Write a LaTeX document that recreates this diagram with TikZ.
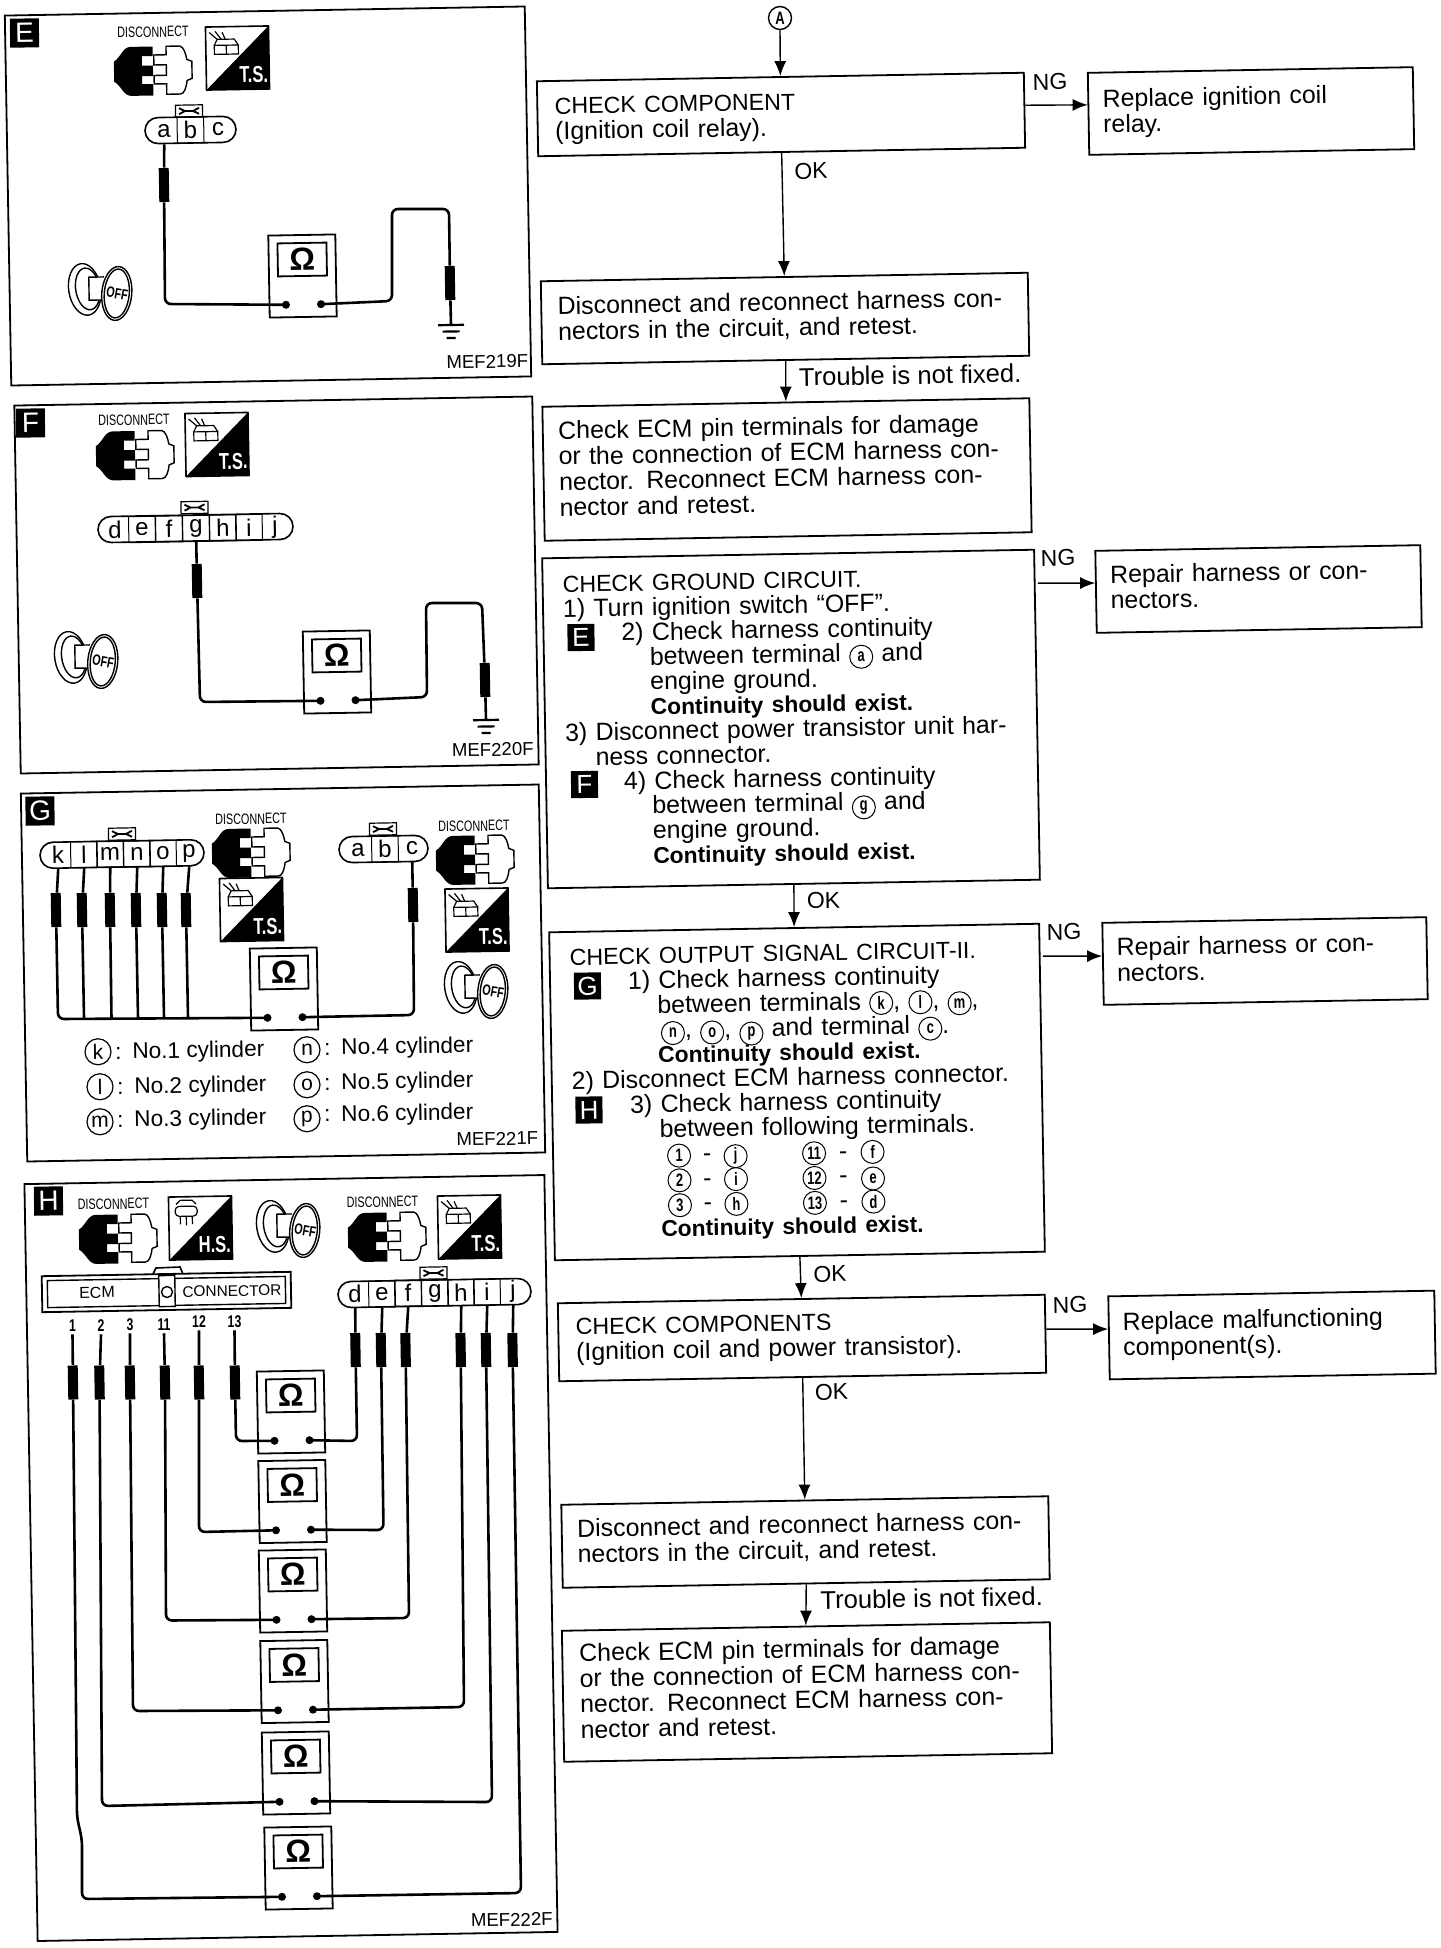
\documentclass[tikz,border=0pt]{standalone}
\usepackage{fontspec}
\setmainfont{Liberation Sans}
\newfontfamily\narrowsf[FakeStretch=0.72]{Liberation Sans}
\usetikzlibrary{shapes.misc,arrows.meta}
\newcommand{\ccl}[1]{\smash{\tikz[baseline=(c.base)]\node[draw, circle, line width=0.5pt, inner sep=0pt, text width=, align=none, minimum width=11.5pt, minimum height=11.5pt, font=\narrowsf\bfseries\fontsize{9}{9}\selectfont] (c) {#1};}}
\newcommand{\cclb}[1]{\tikz[baseline=(c.base)]\node[draw, circle, line width=0.6pt, inner sep=0pt, text width=, align=none, anchor=center, minimum width=13pt, minimum height=13pt, font=\fontsize{10.5}{10.5}\selectfont] (c) {#1};}
\newcommand{\pairline}[4]{\hspace*{46pt}\makebox[14pt]{\ccl{#1}}\makebox[14pt]{-}\makebox[14.5pt]{\ccl{#2}}\hspace{25pt}\makebox[14pt]{\ccl{#3}}\makebox[15pt]{-}\makebox[14.5pt]{\ccl{#4}}}
\newcommand{\cylrow}[2]{\makebox[24pt][l]{\cclb{#1}\,:}#2}
\newcommand{\headline}[1]{{\fontsize{11.6}{12}\selectfont #1}}
\newcommand{\boldline}[1]{{\bfseries\fontsize{11.4}{12}\selectfont #1}}
\newcommand{\lift}[1]{\rule[-#1pt]{0pt}{0pt}}
\begin{document}
\begin{tikzpicture}[
x=0.5pt, y=-0.5pt,
every pic/.style={rotate=1},
panel/.style={draw, line width=0.9pt, rotate=1},
tag/.style={
   fill=black,
   text=white,
   minimum size=14.5pt,
   inner sep=0pt,
   rotate=1,
   font=\fontsize{14}{14}\selectfont,
   },
flowbox/.style={
   draw,
   line width=0.9pt,
   rotate=1,
   align=left,
   inner xsep=7pt,
   inner ysep=0pt,
   font=\fontsize{12.45}{12.8}\selectfont,
   },
longbox/.style={flowbox, font=\fontsize{12.45}{12.4}\selectfont},
smalltag/.style={tag, minimum size=13.5pt, font=\fontsize{13}{13}\selectfont},
lbl/.style={rotate=1, inner sep=0pt, font=\fontsize{11.5}{12}\selectfont},
troub/.style={lbl, anchor=west, font=\fontsize{12.8}{13}\selectfont},
mef/.style={rotate=1, anchor=east, inner sep=0pt, font=\fontsize{9.3}{10}\selectfont},
disc/.style={rotate=1, inner sep=0pt, font=\narrowsf\fontsize{7.5}{8}\selectfont},
flow/.style={line width=0.7pt, -{Latex[length=7.5pt,width=6pt]}},
wire/.style={line width=1.3pt, rounded corners=3pt},
probe/.style={fill=black, minimum width=5pt, minimum height=17pt, inner sep=0pt, rotate=1},
pinbar/.style={draw, rounded rectangle, line width=0.8pt, minimum height=13pt, inner sep=0pt, rotate=1},
pin/.style={minimum width=13.3pt, minimum height=13pt, inner sep=0pt, rotate=1, font=\fontsize{12}{12}\selectfont},
pincell/.style={pin, draw, line width=0.5pt},
legend/.style={anchor=west, inner sep=0pt, rotate=1, font=\fontsize{11.3}{12}\selectfont},
wirenum/.style={inner sep=1pt, font=\narrowsf\bfseries\fontsize{8.5}{9}\selectfont},
disconnect/.pic={
   \fill (0,-24.5) -- (-22,-24.5) .. controls (-30,-24.5) and (-32,-14) .. (-39,-10) -- (-39,10)
      .. controls (-32,14) and (-30,24.5) .. (-22,24.5) -- (0,24.5) -- (0,13) -- (-11,13) -- (-11,5)
      -- (0,5) -- (0,-5.5) -- (-11,-5.5) -- (-11,-15) -- (0,-15) -- cycle;
   \draw[line width=0.7pt] (13.4,-24.5) -- (27,-24.5) .. controls (31,-24) and (33,-17) .. (34,-11) -- (39,-9) -- (39,8)
      -- (34,10) .. controls (33,17) and (31,23.5) .. (27,23.5) -- (13.4,23.5) -- (13.4,13) -- (1,13) -- (1,4.5) -- (13.4,4.5)
      -- (13.4,-6) -- (1,-6) -- (1,-16) -- (13.4,-16) -- cycle;
   },
tsicon/.pic={
   \draw[line width=0.8pt] (-31.5,-31.5) rectangle (31.5,31.5);
   \fill (31.5,-31.5) -- (31.5,31.5) -- (-31.5,31.5) -- cycle;
   \draw[line width=0.6pt] (-23,-13) rectangle (-11,-4) (-11,-13) rectangle (1,-4);
   \draw[line width=0.6pt] (-23,-13) -- (-20,-19) -- (-3,-19) -- (1,-13);
   \draw[line width=0.6pt] (-28,-26) -- (-20,-19) (-22,-27) -- (-16,-19) (-15,-26) -- (-12,-19);
   \node[rotate=1, text=white, inner sep=0pt, font=\narrowsf\bfseries\fontsize{11.5}{12}\selectfont] (-txt) at (16,17) {T.S.};
   },
hsicon/.pic={
   \draw[line width=0.8pt] (-31.5,-31.5) rectangle (31.5,31.5);
   \fill (31.5,-31.5) -- (31.5,31.5) -- (-31.5,31.5) -- cycle;
   \draw[line width=0.6pt, rounded corners=2pt] (-25,-22) rectangle (-3,-12);
   \draw[line width=0.6pt] (-24,-24) -- (-20,-28) -- (-8,-28) -- (-4,-24);
   \draw[line width=0.6pt] (-20,-12) -- (-20,-4) (-14,-12) -- (-14,-3) (-8,-12) -- (-8,-4);
   \node[rotate=1, text=white, inner sep=0pt, font=\narrowsf\bfseries\fontsize{11.5}{12}\selectfont] (-txt) at (14,17) {H.S.};
   },
keyicon/.pic={
   \draw[line width=0.7pt, rotate=8] (-15,-3) ellipse (16 and 26);
   \draw[line width=0.7pt, rotate=8] (-12,-3) ellipse (12 and 21);
   \draw[line width=0.7pt, fill=white] (4,-13) -- (-11,-13) -- (-11,10) -- (4,10);
   \draw[line width=0.7pt, fill=white, rotate=-6] (17,2) ellipse (15 and 27);
   \draw[line width=0.7pt, rotate=-6] (17,2) ellipse (12.5 and 24.5);
   \node[rotate=-10, inner sep=0pt, font=\narrowsf\bfseries\fontsize{7.5}{8}\selectfont] (-txt) at (17,4) {OFF};
   },
meter/.pic={
   \draw[line width=0.9pt] (-33.5,-41) rectangle (33.5,41);
   \draw[line width=0.9pt] (-24.5,-33) rectangle (24.5,0);
   \node[rotate=1, inner sep=0pt, font=\bfseries\fontsize{16}{16}\selectfont] (-omega) at (0,-16.5) {Ω};
   \coordinate (-l) at (-17,28.5);
   \coordinate (-r) at (18,28.5);
   \fill (-l) circle (4) (-r) circle (4);
   },
lockmark/.pic={
   \draw[line width=0.6pt] (-13.5,-6) rectangle (13.5,6);
   \draw[line width=0.9pt] (-10,-3) -- (-4,0) -- (4,0) -- (10,-3) (-10,3) -- (-4,0) (4,0) -- (10,3);
   },
gnd/.pic={
   \coordinate (-top) at (0,0);
   \draw[line width=1.1pt] (-13,0) -- (13,0) (-8.5,6.5) -- (8.5,6.5) (-4.5,13) -- (4.5,13);
   },
]
\useasboundingbox (0,0) rectangle (1440,1948);

% panel E
\node[panel, minimum width=260pt, minimum height=185pt] (panelE) at (268,196) {};
\node[tag] (tagE) at (24.5,33) {E};
\node[disc] (discE) at (153,32) {DISCONNECT};
\pic (iconE) at (153,71) {disconnect};
\pic (tsE) at (237.5,58) {tsicon};
\pic (keyE) at (100,290) {keyicon};
\pic (lockE) at (189,111) {lockmark};
\node[pinbar, minimum width=45.5pt] (barE) at (190.5,130) {};
\node[pin] (Ea) at (164,131) {a};
\node[pincell] (Eb) at (190.5,130) {b};
\node[pin] (Ec) at (218,129.5) {c};
\node[probe] (Epa) at (164,185) {};
\node[probe] (Epg) at (450,283) {};
\pic (mE) at (302.5,276) {meter};
\pic (gndE) at (451,325) {gnd};
\draw[wire] (Ea.south) -- (Epa) -- (165,304) -- (mE-l);
\draw[wire] (mE-r) -- (392,301) -- (392,209) -- (449,209) -- (Epg) -- (gndE-top);
\node[mef] (mefE) at (528.5,361) {MEF219F};

% panel F
\node[panel, minimum width=259pt, minimum height=184pt] (panelF) at (276.5,585) {};
\node[tag] (tagF) at (30.5,423) {F};
\node[disc] (discF) at (134,420) {DISCONNECT};
\pic (iconF) at (135,455.5) {disconnect};
\pic (tsF) at (217,444.5) {tsicon};
\pic (keyF) at (86,658) {keyicon};
\pic (lockF) at (194.5,507.5) {lockmark};
\node[pinbar, minimum width=97.5pt] (barF) at (195.5,528) {};
\node[pin] (Fd) at (115,530) {d};
\node[pincell] (Fe) at (142,529.5) {e};
\node[pincell] (Ff) at (169,529) {f};
\node[pincell] (Fg) at (196,528.5) {g};
\node[pincell] (Fh) at (223,528) {h};
\node[pincell] (Fi) at (249,527.5) {i};
\node[pin] (Fj) at (275,527) {j};
\node[probe] (Fpg) at (197,581) {};
\node[probe] (Fpgnd) at (485,680) {};
\pic (mF) at (337,672) {meter};
\pic (gndF) at (486,720) {gnd};
\draw[wire] (Fg.south) -- (Fpg) -- (200,702) -- (mF-l);
\draw[wire] (mF-r) -- (427,697) -- (426,603) -- (482,603) -- (Fpgnd) -- (gndF-top);
\node[mef] (mefF) at (534,749) {MEF220F};

% panel G
\node[panel, minimum width=259pt, minimum height=184pt] (panelG) at (283,973) {};
\node[tag] (tagG) at (40,811) {G};
\pic (lockGa) at (122,834) {lockmark};
\node[pinbar, minimum width=82pt] (barGa) at (122,854) {};
\node[pin] (Gk) at (58,855) {k};
\node[pincell] (Gl) at (84,854.5) {l};
\node[pincell] (Gm) at (110,854) {m};
\node[pincell] (Gn) at (137,854) {n};
\node[pincell] (Go) at (163,853.5) {o};
\node[pin] (Gp) at (189,853) {p};
\node[disc] (discGa) at (251,819) {DISCONNECT};
\pic (iconGa) at (251,853) {disconnect};
\pic (tsGa) at (251.5,909.5) {tsicon};
\pic (lockGb) at (383,829) {lockmark};
\node[pinbar, minimum width=44.5pt] (barGb) at (383.5,849) {};
\node[pin] (Ga) at (358,850) {a};
\node[pincell] (Gb) at (385,849) {b};
\node[pin] (Gc) at (412,848.5) {c};
\node[disc] (discGb) at (474,826) {DISCONNECT};
\pic (iconGb) at (475,860) {disconnect};
\pic (tsGb) at (477,920) {tsicon};
\pic (keyG) at (476,988) {keyicon};
\pic (mG) at (284,989) {meter};
\node[probe] (Gpk) at (56,910) {};
\node[probe] (Gpl) at (82,910) {};
\node[probe] (Gpm) at (110,910) {};
\node[probe] (Gpn) at (136,910) {};
\node[probe] (Gpo) at (162,910) {};
\node[probe] (Gpp) at (186,910) {};
\node[probe] (Gpc) at (413,905) {};
\coordinate (busl) at (84,1018);
\coordinate (busm) at (111.5,1018);
\coordinate (busn) at (138,1018);
\coordinate (buso) at (164,1018);
\coordinate (busp) at (188,1018);
\draw[wire] (Gk.south) -- (Gpk) -- (58,1019) -- (mG-l);
\draw[wire] (Gl.south) -- (Gpl) -- (busl);
\draw[wire] (Gm.south) -- (Gpm) -- (busm);
\draw[wire] (Gn.south) -- (Gpn) -- (busn);
\draw[wire] (Go.south) -- (Gpo) -- (buso);
\draw[wire] (Gp.south) -- (Gpp) -- (busp);
\draw[wire] (Gc.south) -- (Gpc) -- (414,1015) -- (mG-r);
\node[legend] (lgk) at (84,1052) {\cylrow{k}{No.1 cylinder}};
\node[legend] (lgl) at (86,1087) {\cylrow{l}{No.2 cylinder}};
\node[legend] (lgm) at (86,1122) {\cylrow{m}{No.3 cylinder}};
\node[legend] (lgn) at (293,1050) {\cylrow{n}{No.4 cylinder}};
\node[legend] (lgo) at (293,1085) {\cylrow{o}{No.5 cylinder}};
\node[legend] (lgp) at (293,1119) {\cylrow{p}{No.6 cylinder}};
\node[mef] (mefG) at (538.5,1138) {MEF221F};

% panel H
\node[panel, minimum width=260pt, minimum height=378.5pt] (panelH) at (291,1558) {};
\node[tag] (tagH) at (48.5,1201) {H};
\node[disc] (discHa) at (113.5,1204) {DISCONNECT};
\pic (iconHa) at (118,1239) {disconnect};
\pic (hsH) at (200.5,1228) {hsicon};
\pic (keyH) at (288,1227) {keyicon};
\node[disc] (discHb) at (382.5,1202) {DISCONNECT};
\pic (iconHb) at (387,1237) {disconnect};
\pic (tsH) at (469.5,1227) {tsicon};
\draw[line width=0.8pt] (153,1274) -- (156,1268) -- (180,1267) -- (183,1274);
\node[panel, minimum width=124.5pt, minimum height=18pt] (ecmbox) at (166.5,1292) {};
\node[draw, line width=0.7pt, rotate=1, minimum width=119pt, minimum height=13.5pt] (ecmin) at (166.5,1292) {};
\node[draw, line width=0.7pt, fill=white, rotate=1, minimum width=8pt, minimum height=15.5pt, inner sep=0pt] (ecmpin) at (167,1291) {};
\node[draw, circle, line width=0.7pt, minimum size=5.5pt, inner sep=0pt] (ecmo) at (167,1292) {};
\node[rotate=1, inner sep=0pt, font=\fontsize{8}{8}\selectfont] (ecmtxt) at (97,1292.5) {ECM};
\node[rotate=1, inner sep=0pt, font=\fontsize{7.7}{8}\selectfont] (contxt) at (232,1291) {CONNECTOR};
\node[wirenum] (n1) at (72.5,1326) {1};
\node[wirenum] (n2) at (101,1326) {2};
\node[wirenum] (n3) at (130,1325) {3};
\node[wirenum] (n11) at (164,1325) {11};
\node[wirenum] (n12) at (199,1322) {12};
\node[wirenum] (n13) at (234.5,1322) {13};
\pic (lockH) at (433.5,1273) {lockmark};
\node[pinbar, minimum width=96.5pt] (barH) at (434.5,1293) {};
\node[pin] (Hd) at (355,1294) {d};
\node[pincell] (He) at (382,1294) {e};
\node[pincell] (Hf) at (408,1293) {f};
\node[pincell] (Hg) at (435,1293) {g};
\node[pincell] (Hh) at (461,1292.5) {h};
\node[pincell] (Hi) at (487,1292) {i};
\node[pin] (Hj) at (513,1291.5) {j};
\node[probe] (Hp1) at (73,1382.5) {};
\node[probe] (Hp2) at (99.5,1382.5) {};
\node[probe] (Hp3) at (130,1382.5) {};
\node[probe] (Hp11) at (165,1382.5) {};
\node[probe] (Hp12) at (199,1382.5) {};
\node[probe] (Hp13) at (235,1382.5) {};
\node[probe] (Hpd) at (355.5,1350) {};
\node[probe] (Hpe) at (381,1350) {};
\node[probe] (Hpf) at (405.6,1350) {};
\node[probe] (Hph) at (460.7,1350) {};
\node[probe] (Hpi) at (486,1350) {};
\node[probe] (Hpj) at (512.6,1350) {};
\pic (mHa) at (291,1412) {meter};
\pic (mHb) at (292.5,1501.5) {meter};
\pic (mHc) at (293,1591) {meter};
\pic (mHd) at (294.5,1681.5) {meter};
\pic (mHe) at (296,1773) {meter};
\pic (mHf) at (298.5,1868) {meter};
\draw[wire] (n13.south) -- (Hp13) -- (236,1441) -- (mHa-l);
\draw[wire] (Hd.south) -- (Hpd) -- (357,1441) -- (mHa-r);
\draw[wire] (n12.south) -- (Hp12) -- (199,1532) -- (mHb-l);
\draw[wire] (He.south) -- (Hpe) -- (383.5,1530) -- (mHb-r);
\draw[wire] (n11.south) -- (Hp11) -- (166,1620.5) -- (mHc-l);
\draw[wire] (Hf.south) -- (Hpf) -- (409,1618) -- (mHc-r);
\draw[wire] (n3.south) -- (Hp3) -- (133,1711) -- (mHd-l);
\draw[wire] (Hh.south) -- (Hph) -- (464,1707) -- (mHd-r);
\draw[wire] (n2.south) -- (Hp2) -- (102,1806) -- (mHe-l);
\draw[wire] (Hi.south) -- (Hpi) -- (492,1802) -- (mHe-r);
\draw[wire] (n1.south) -- (Hp1) -- (77,1817) -- (82,1840) -- (82,1899) -- (mHf-l);
\draw[wire] (Hj.south) -- (Hpj) -- (521,1893) -- (mHf-r);
\node[mef] (mefH) at (553,1919) {MEF222F};

% flow chart
\node[draw, circle, line width=0.7pt, minimum size=11.5pt, inner sep=0pt, font=\narrowsf\bfseries\fontsize{9}{9}\selectfont] (entry) at (780,18) {A};

\node[flowbox, minimum width=243.5pt, minimum height=37.5pt, text width=226pt] (chkrelay) at (781,114.5)
   {\rule{0pt}{11pt}\headline{CHECK COMPONENT}\\(Ignition coil relay).};
\node[flowbox, minimum width=162.5pt, minimum height=41pt, text width=148pt] (reprelay) at (1251,111)
   {Replace ignition coil\\relay.};
\node[flowbox, minimum width=243.5pt, minimum height=41.5pt, text width=227pt] (recona) at (785,318.5)
   {Disconnect and reconnect harness con-\\nectors in the circuit, and retest.\lift{4.2}};
\node[flowbox, minimum width=243.5pt, minimum height=67pt, text width=228pt] (pinsa) at (787,469.5)
   {Check ECM pin terminals for damage\\or the connection of ECM harness con-\\nector. Reconnect ECM harness con-\\nector and retest.\lift{4.8}};
\node[longbox, minimum width=246pt, minimum height=165pt, text width=226pt] (chkgnd) at (791,719)
   {\headline{CHECK GROUND CIRCUIT.}\\
    1) Turn ignition switch ``OFF''.\\
    \hspace*{29pt}2) Check harness continuity\\
    \hspace*{43pt}between terminal \ccl{a} and\\
    \hspace*{43pt}engine ground.\\
    \hspace*{43pt}\boldline{Continuity should exist.}\\
    3) Disconnect power transistor unit har-\\
    \hspace*{15pt}ness connector.\\
    \hspace*{29pt}4) Check harness continuity\\
    \hspace*{43pt}between terminal \ccl{g} and\\
    \hspace*{43pt}engine ground.\\
    \hspace*{43pt}\boldline{Continuity should exist.}};
\node[flowbox, minimum width=162.5pt, minimum height=41pt, text width=148pt] (repgnd) at (1258.5,589)
   {Repair harness or con-\\nectors.\lift{4.5}};
\node[longbox, minimum width=245pt, minimum height=164pt, text width=225pt] (chkout) at (797,1092)
   {\headline{CHECK OUTPUT SIGNAL CIRCUIT-II.}\\
    \hspace*{29pt}1) Check harness continuity\\
    \hspace*{43.5pt}between terminals \ccl{k}, \ccl{l}, \ccl{m},\\
    \hspace*{45pt}\ccl{n}, \ccl{o}, \ccl{p} and terminal \ccl{c}.\\
    \hspace*{43.5pt}\boldline{Continuity should exist.}\\
    2) Disconnect ECM harness connector.\\
    \hspace*{29pt}3) Check harness continuity\\
    \hspace*{43.5pt}between following terminals.\\
    \pairline{1}{j}{11}{f}\\
    \pairline{2}{i}{12}{e}\\
    \pairline{3}{h}{13}{d}\\
    \hspace*{43.5pt}\boldline{Continuity should exist.}};
\node[flowbox, minimum width=162pt, minimum height=41pt, text width=148pt] (repout) at (1265,961)
   {Repair harness or con-\\nectors.\lift{3.9}};
\node[flowbox, minimum width=243.5pt, minimum height=39pt, text width=226pt] (chkcomp) at (802,1338)
   {\headline{CHECK COMPONENTS}\\(Ignition coil and power transistor).};
\node[flowbox, minimum width=163pt, minimum height=41.5pt, text width=149pt] (repcomp) at (1272,1335)
   {Replace malfunctioning\\component(s).\lift{3.6}};
\node[flowbox, minimum width=243.5pt, minimum height=41.5pt, text width=228pt] (reconb) at (805.5,1542)
   {Disconnect and reconnect harness con-\\nectors in the circuit, and retest.\lift{5.1}};
\node[flowbox, minimum width=244pt, minimum height=65.5pt, text width=227pt] (pinsb) at (807,1692)
   {Check ECM pin terminals for damage\\or the connection of ECM harness con-\\nector. Reconnect ECM harness con-\\nector and retest.\lift{5.1}};

\node[smalltag] (tagchkE) at (581,637.5) {E};
\node[smalltag] (tagchkF) at (584.5,784.5) {F};
\node[smalltag] (tagchkG) at (587.5,986) {G};
\node[smalltag] (tagchkH) at (589,1110) {H};

\draw[flow] (entry.south) -- (chkrelay.north);
\draw[flow] ([yshift=2.5pt]chkrelay.east) -- ([yshift=4.5pt]reprelay.west);
\draw[flow] (chkrelay.south) -- (recona.north);
\draw[flow] (recona.south) -- (pinsa.north);
\draw[flow] ([yshift=65.8pt]chkgnd.east) -- ([yshift=4.4pt]repgnd.west);
\draw[flow] (chkgnd.south) -- (chkout.north);
\draw[flow] ([yshift=65.8pt]chkout.east) -- ([yshift=3.9pt]repout.west);
\draw[flow] (chkout.south) -- (chkcomp.north);
\draw[flow] ([yshift=2.3pt]chkcomp.east) -- ([yshift=4.4pt]repcomp.west);
\draw[flow] (chkcomp.south) -- (reconb.north);
\draw[flow] (reconb.south) -- (pinsb.north);

\node[lbl] (ngrelay) at (1050,82) {NG};
\node[lbl] (okrelay) at (811,171) {OK};
\node[troub] (trouba) at (798.5,377) {Trouble is not fixed.};
\node[lbl] (nggnd) at (1058,558) {NG};
\node[lbl] (okgnd) at (823.5,900.5) {OK};
\node[lbl] (ngout) at (1064,932) {NG};
\node[lbl] (okout) at (830,1274) {OK};
\node[lbl] (ngcomp) at (1070,1305) {NG};
\node[lbl] (okcomp) at (831.5,1392) {OK};
\node[troub] (troubb) at (820,1600) {Trouble is not fixed.};
\end{tikzpicture}
\end{document}
